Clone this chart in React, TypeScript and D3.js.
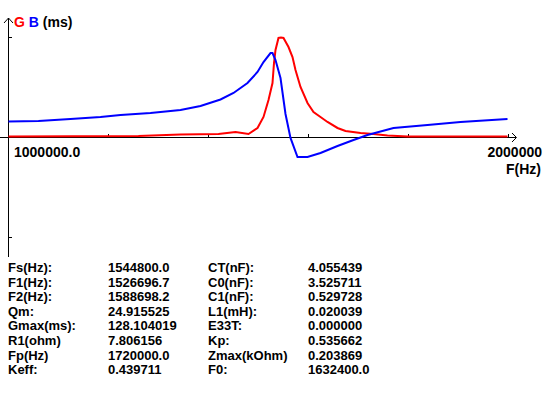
import React from 'react';
import * as d3 from 'd3';

const width = 544;
const height = 393;

// conductance G (mS) vs frequency (Hz)
const gFreq = [
  1000000, 1260000, 1344000, 1420000, 1454000, 1480000, 1498000, 1510000, 1520000,
  1528000, 1531000, 1534000, 1540000, 1545000, 1550000, 1560000, 1568000, 1574000,
  1584000, 1598000, 1610000, 1624000, 1638000, 1658000, 1674000, 1704000, 1730000,
  1758000, 1798000, 1998000,
];
const gVal = [
  1.3, 1.9, 3.8, 4.5, 7.0, 4.5, 12.2, 26.3, 48.0, 69.8, 95.4, 112.1, 127.5, 128.1,
  127.5, 115.9, 103.1, 86.5, 64.7, 44.2, 32.7, 26.3, 19.9, 12.2, 8.3, 5.8, 4.5, 2.6,
  1.3, 1.3,
];

// susceptance B (mS) vs frequency (Hz)
const bFreq = [
  1000000, 1060000, 1124000, 1184000, 1224000, 1284000, 1344000, 1384000, 1424000,
  1450000, 1478000, 1498000, 1510000, 1524000, 1528000, 1534000, 1544000, 1554000,
  1564000, 1578000, 1598000, 1624000, 1658000, 1690000, 1718000, 1770000, 1838000,
  1904000, 1998000,
];
const bVal = [
  20.5, 21.1, 23.7, 26.3, 28.8, 31.4, 35.2, 40.4, 48.7, 57.0, 69.8, 83.9, 96.7,
  108.2, 108.2, 99.3, 76.2, 30.1, -0.6, -25.0, -25.0, -19.9, -10.9, -3.2, 3.2,
  12.2, 16.0, 19.9, 23.7,
];

const xTicks = [1200000, 1400000, 1600000, 1800000, 2000000];
const gMax = 128.104019;

const leftLabels = ['Fs(Hz):', 'F1(Hz):', 'F2(Hz):', 'Qm:', 'Gmax(ms):', 'R1(ohm)', 'Fp(Hz)', 'Keff:'];
const leftValues = ['1544800.0', '1526696.7', '1588698.2', '24.915525', '128.104019', '7.806156', '1720000.0', '0.439711'];
const rightLabels = ['CT(nF):', 'C0(nF):', 'C1(nF):', 'L1(mH):', 'E33T:', 'Kp:', 'Zmax(kOhm)', 'F0:'];
const rightValues = ['4.055439', '3.525711', '0.529728', '0.020039', '0.000000', '0.535662', '0.203869', '1632400.0'];

const font = "'Liberation Sans', Arial, sans-serif";

const App: React.FC = () => {
  const x = d3.scaleLinear().domain([1000000, 2000000]).range([8.5, 508.5]);
  const y = d3.scaleLinear().domain([-gMax, gMax]).range([237.5, 37.5]);

  const gLine = d3
    .line<number>()
    .x((_, i) => x(gFreq[i]))
    .y(d => y(d));
  const bLine = d3
    .line<number>()
    .x((_, i) => x(bFreq[i]))
    .y(d => y(d));

  const y0 = y(0);
  const rowY = (i: number) => 272 + i * 14.6;

  return (
    <svg
      width={width}
      height={height}
      style={{ position: 'absolute', left: 0, top: 0, background: '#fff' }}
      fontFamily={font}
      fontWeight="bold"
    >
      <rect width={width} height={height} fill="#fff" />
      <g stroke="#000" strokeWidth={1} fill="none" shapeRendering="crispEdges">
        {/* y axis */}
        <line x1={8.5} y1={18} x2={8.5} y2={257} />
        <line x1={8.5} y1={y(gMax)} x2={12} y2={y(gMax)} />
        <line x1={8.5} y1={y(-gMax)} x2={12} y2={y(-gMax)} />
        {/* x axis */}
        <line x1={0} y1={y0} x2={516} y2={y0} />
        {xTicks.map(t => (
          <line key={t} x1={x(t)} y1={y0 - 4} x2={x(t)} y2={y0} />
        ))}
      </g>
      <g stroke="#000" strokeWidth={1} fill="none">
        <polyline points="4,23 8.5,18 13,23" />
        <polyline points="512,133 516.5,137.5 512,142" />
      </g>

      <path d={gLine(gVal) || ''} fill="none" stroke="#ff0000" strokeWidth={2} />
      <path d={bLine(bVal) || ''} fill="none" stroke="#0000ff" strokeWidth={2} />

      <text x={14} y={27} fontSize={14}>
        <tspan fill="#ff0000">G</tspan>
        <tspan fill="#0000ff"> B</tspan>
        <tspan fill="#000"> (ms)</tspan>
      </text>
      <text x={14} y={157} fontSize={14}>1000000.0</text>
      <text x={542} y={157} fontSize={14} textAnchor="end">2000000</text>
      <text x={541} y={174} fontSize={14} textAnchor="end">F(Hz)</text>

      <g fontSize={13} fill="#000">
        {leftLabels.map((t, i) => (
          <text key={'ll' + i} x={8} y={rowY(i)}>{t}</text>
        ))}
        {leftValues.map((t, i) => (
          <text key={'lv' + i} x={108} y={rowY(i)}>{t}</text>
        ))}
        {rightLabels.map((t, i) => (
          <text key={'rl' + i} x={208} y={rowY(i)}>{t}</text>
        ))}
        {rightValues.map((t, i) => (
          <text key={'rv' + i} x={308} y={rowY(i)}>{t}</text>
        ))}
      </g>
    </svg>
  );
};

export default App;
